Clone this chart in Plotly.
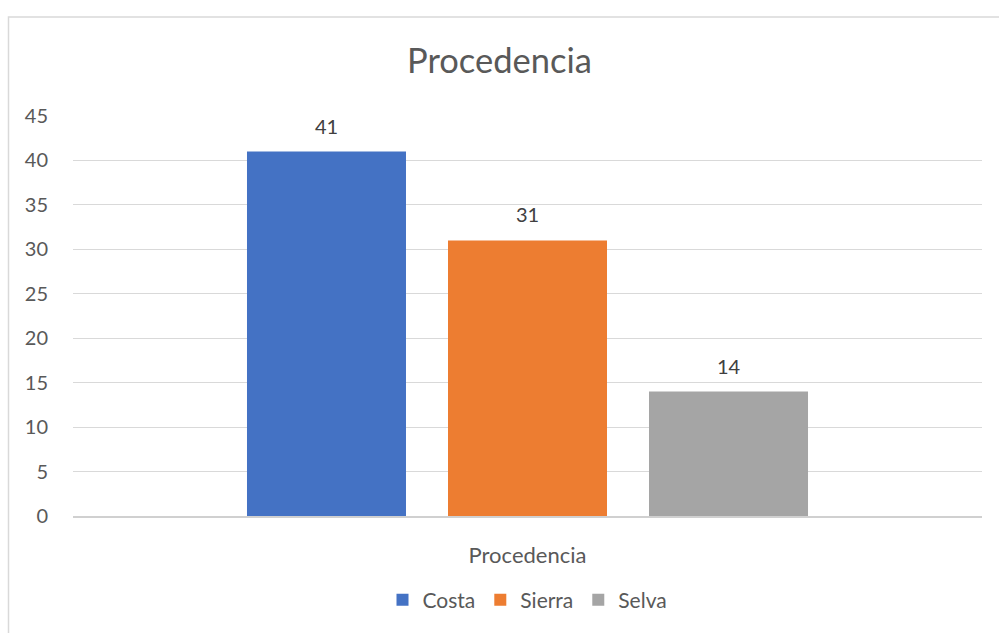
import plotly.graph_objects as go

# Datos del gráfico
categoria = ["Procedencia"]
series = ["Costa", "Sierra", "Selva"]
valores = [41, 31, 14]
colores = ["#4472C4", "#ED7D31", "#A5A5A5"]

fuente = "Lato, sans-serif"
gris = "#595959"

fig = go.Figure()
for nombre, valor, color in zip(series, valores, colores):
    fig.add_trace(go.Bar(x=categoria, y=[valor], name=nombre, marker_color=color,
                         marker_line_width=0, offsetgroup=nombre, hoverinfo="skip"))

# Etiquetas de datos encima de cada barra
desplazamientos = [-201, 0, 201]
for valor, dx in zip(valores, desplazamientos):
    fig.add_annotation(x=categoria[0], y=valor, text=str(valor), showarrow=False,
                       xshift=dx, yshift=26, yanchor="middle",
                       font=dict(family=fuente, size=20, color="#404040"))

fig.update_layout(
    width=999, height=633,
    margin=dict(l=73, r=17, t=116, b=115),
    paper_bgcolor="white", plot_bgcolor="white",
    barmode="group", bargap=0.3366, bargroupgap=0.209,
    title=dict(text="Procedencia", x=0.5, xanchor="center", y=1 - 61 / 633, yanchor="middle",
               font=dict(family=fuente, size=34.5, color=gris)),
    font=dict(family=fuente, color=gris),
    legend=dict(orientation="h", x=0.5, xanchor="center", y=-0.21, yanchor="middle",
                font=dict(family=fuente, size=21, color=gris), traceorder="normal",
                itemwidth=30),
    showlegend=True,
)
fig.update_yaxes(range=[0, 45], dtick=5, showgrid=True, gridcolor="#D9D9D9", gridwidth=1.3,
                 zeroline=False, showline=False, ticks="", ticklabelstandoff=24,
                 tickfont=dict(family=fuente, size=20, color=gris))
fig.update_xaxes(showline=True, linecolor="#D0D0D0", linewidth=1.5, ticks="",
                 ticklabelstandoff=19, tickfont=dict(family=fuente, size=22, color=gris))

# Borde del área del gráfico
fig.add_shape(type="rect", xref="paper", yref="paper",
              x0=(8.5 - 73) / 909, x1=1.1, y0=-0.5, y1=1 + (116 - 16.5) / 402,
              line=dict(color="#D9D9D9", width=1.5), fillcolor="rgba(0,0,0,0)", layer="below")

fig.write_html("out.html", config={"displayModeBar": False},
               post_script="document.body.style.margin='0';")
